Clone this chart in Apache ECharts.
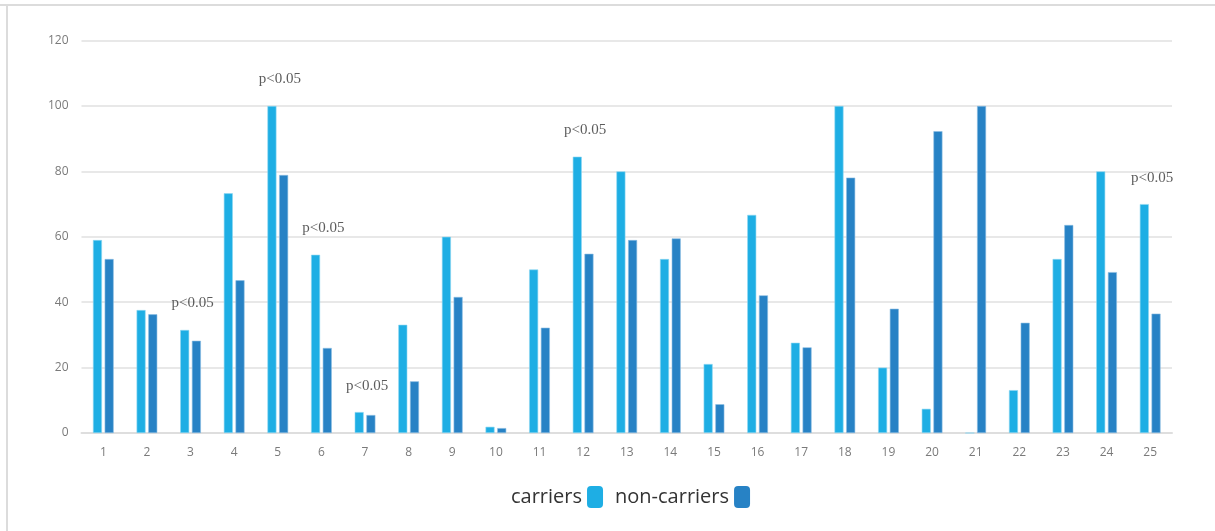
<!DOCTYPE html>
<html>
<head>
<meta charset="utf-8">
<script src="https://cdn.jsdelivr.net/npm/echarts@6/dist/echarts.min.js"></script>
<style>
  html, body { margin: 0; padding: 0; background: #ffffff; }
  #chart { width: 1215px; height: 531px; }
</style>
</head>
<body>
<div id="chart"></div>
<script>
// Group numbers along the x axis
const categories = ['1','2','3','4','5','6','7','8','9','10','11','12','13','14','15','16','17','18','19','20','21','22','23','24','25'];

// Percentages per group
const carriers = [59, 37.6, 31.5, 73.3, 100, 54.5, 6.4, 33.1, 60, 1.9, 50, 84.5, 80, 53.2, 21.1, 66.7, 27.6, 100, 20, 7.4, 0, 13.1, 53.2, 80, 70];
const nonCarriers = [53.2, 36.3, 28.2, 46.7, 78.9, 26, 5.5, 15.8, 41.6, 1.5, 32.2, 54.8, 59, 59.5, 8.8, 42.1, 26.2, 78.1, 38, 92.3, 100, 33.7, 63.6, 49.2, 36.5];

// Groups with a significant difference
const significant = ['3', '5', '6', '7', '12', '25'];
const significanceText = 'p<0.05';

// y axis ticks
const yTicks = [0, 20, 40, 60, 80, 100, 120];

const chart = echarts.init(document.getElementById('chart'), null, { renderer: 'canvas' });

const annotationData = significant.map(function (c) {
  const i = categories.indexOf(c);
  return [c, Math.max(carriers[i], nonCarriers[i])];
});

const option = {
  backgroundColor: '#ffffff',
  animation: false,
  grid: { left: 81.5, right: 43, top: 40.6, bottom: 98 },
  graphic: [
    { type: 'line', shape: { x1: 0, y1: 5, x2: 1215, y2: 5 }, style: { stroke: '#dcdcdc', lineWidth: 2 } },
    { type: 'line', shape: { x1: 7, y1: 5, x2: 7, y2: 531 }, style: { stroke: '#dcdcdc', lineWidth: 2 } }
  ],
  legend: {
    data: ['carriers', 'non-carriers'],
    left: 506,
    top: 481,
    align: 'right',
    itemWidth: 16,
    itemHeight: 22,
    itemGap: 12,
    icon: 'roundRect',
    itemStyle: { borderWidth: 0 },
    textStyle: { fontFamily: 'Open Sans', fontSize: 20, color: '#333333', padding: [0, 0, 0, 0] }
  },
  xAxis: {
    type: 'category',
    data: categories,
    axisLine: { lineStyle: { color: '#dedede', width: 2 } },
    axisTick: { show: false },
    axisLabel: { color: '#7a7a7a', fontFamily: 'Open Sans', fontSize: 12, margin: 14 }
  },
  yAxis: {
    type: 'value',
    min: yTicks[0],
    max: yTicks[yTicks.length - 1],
    interval: yTicks[1] - yTicks[0],
    axisLine: { show: false },
    axisTick: { show: false },
    splitLine: { lineStyle: { color: '#e8e8e8', width: 2 } },
    axisLabel: { color: '#7a7a7a', fontFamily: 'Open Sans', fontSize: 12, margin: 13 }
  },
  series: [
    {
      name: 'carriers',
      type: 'bar',
      data: carriers,
      barWidth: 9,
      barGap: '30%',
      itemStyle: { color: '#1eaee4', borderColor: '#8fd6f2', borderWidth: 0.6 }
    },
    {
      name: 'non-carriers',
      type: 'bar',
      data: nonCarriers,
      barWidth: 9,
      itemStyle: { color: '#2782c5', borderColor: '#8cbde3', borderWidth: 0.6 }
    },
    {
      name: 'significance',
      type: 'scatter',
      data: annotationData,
      symbolSize: 0,
      silent: true,
      label: {
        show: true,
        position: 'top',
        distance: 19,
        offset: [2, 0],
        formatter: significanceText,
        fontFamily: 'Liberation Serif',
        fontSize: 15,
        color: '#333333'
      }
    }
  ]
};

chart.setOption(option);
</script>
</body>
</html>
